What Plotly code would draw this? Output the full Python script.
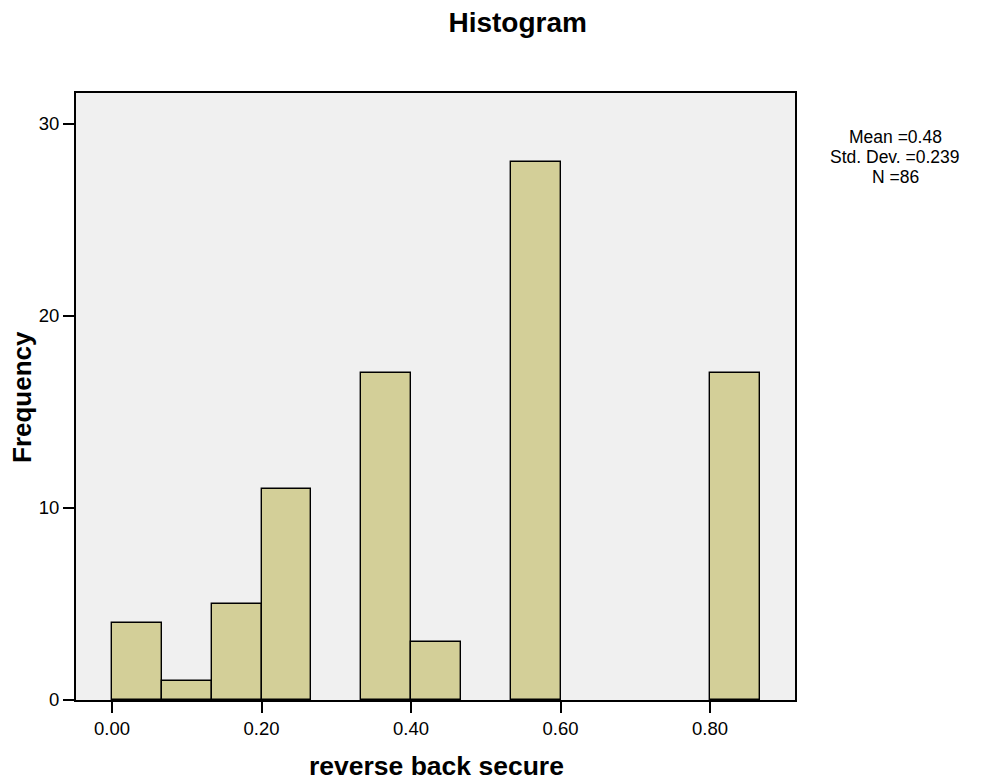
import plotly.graph_objects as go

bin_width = 1/15
bin_lefts = [0.0, 1/15, 2/15, 3/15, 5/15, 6/15, 8/15, 12/15]
counts = [4, 1, 5, 11, 17, 3, 28, 17]
x_ticks = [0.0, 0.2, 0.4, 0.6, 0.8]
x_tick_labels = ["0.00", "0.20", "0.40", "0.60", "0.80"]
y_ticks = [0, 10, 20, 30]
stats_lines = ["Mean =0.48", "Std. Dev. =0.239", "N =86"]

centers = [b + bin_width/2 for b in bin_lefts]

fig = go.Figure(go.Bar(
    x=centers, y=counts, width=bin_width,
    marker=dict(color="#d3cf98", line=dict(color="black", width=1.4)),
))

font = "Liberation Sans, Arial, sans-serif"
fig.update_layout(
    width=982, height=775,
    margin=dict(l=68, r=195, t=85, b=83, autoexpand=False),
    paper_bgcolor="white", plot_bgcolor="#f0f0f0",
    font=dict(family=font, color="black"),
    showlegend=False,
    title=dict(text="<b>Histogram</b>", x=0.519, xanchor="center", y=1 - 14/775, yanchor="middle",
               font=dict(size=28, family=font)),
    bargap=0,
)
fig.update_xaxes(
    range=[-0.0482, 0.9137], tickvals=x_ticks, ticktext=x_tick_labels,
    ticks="outside", ticklen=11, tickwidth=2, tickcolor="black",
    showline=True, linecolor="black", linewidth=2, mirror=True, automargin=False,
    showgrid=False, zeroline=False, tickfont=dict(size=18.5),
)
fig.update_yaxes(
    range=[0, 31.6], tickvals=y_ticks,
    ticks="outside", ticklen=11, tickwidth=2, tickcolor="black",
    showline=True, linecolor="black", linewidth=2, mirror=True, automargin=False,
    showgrid=False, zeroline=False, tickfont=dict(size=18.5),
)
# axis titles
fig.add_annotation(
    text="<b>reverse back secure</b>", xref="paper", yref="paper",
    x=(436-76)/719, y=(700-766)/607, xanchor="center", yanchor="middle",
    showarrow=False, font=dict(size=26.5, family=font),
)
fig.add_annotation(
    text="<b>Frequency</b>", xref="paper", yref="paper", textangle=-90,
    x=(22-76)/719, y=(700-397)/607, xanchor="center", yanchor="middle",
    showarrow=False, font=dict(size=26, family=font),
)
for line, ypix in zip(stats_lines, [136.5, 157, 177.5]):
    fig.add_annotation(
        text=line, xref="paper", yref="paper", x=(895-76)/719, y=(700-ypix)/607,
        xanchor="center", yanchor="middle", showarrow=False,
        font=dict(size=17.5, family=font),
    )
fig.write_html("out.html")
